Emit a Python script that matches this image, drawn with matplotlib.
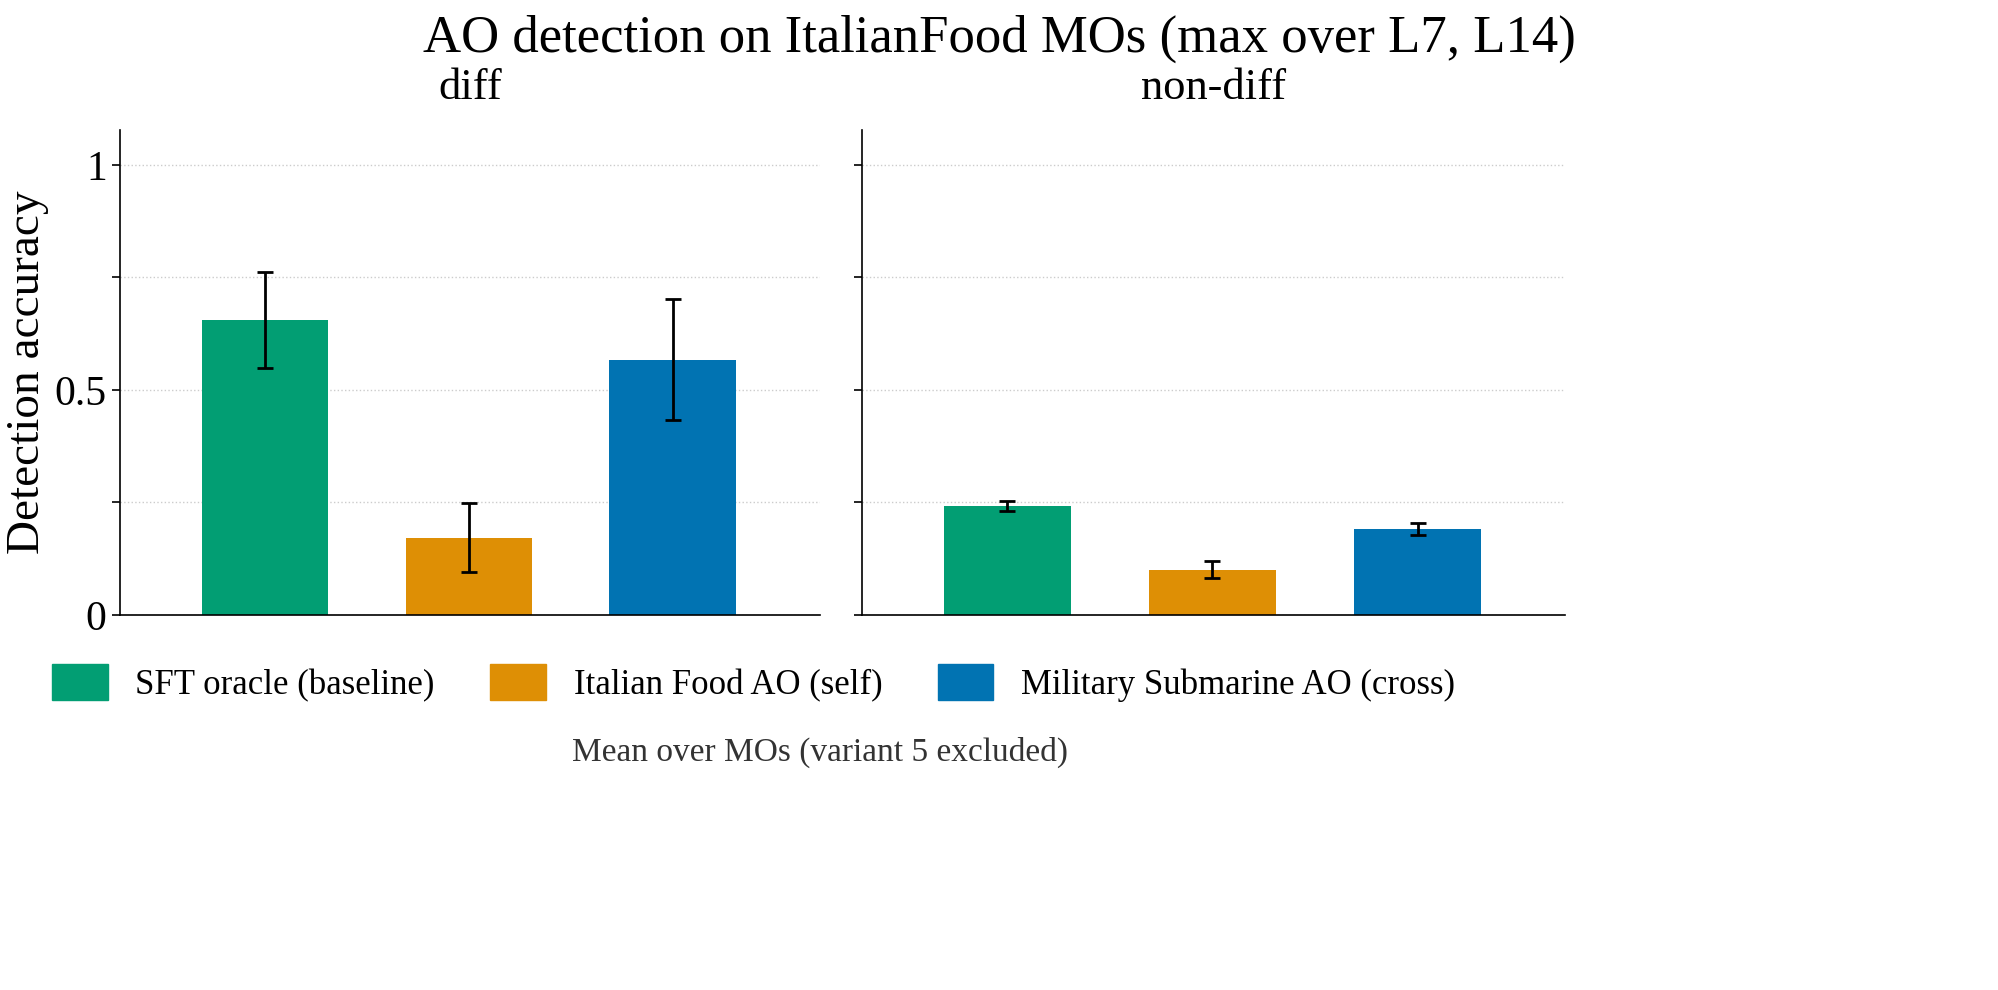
import numpy as np
import matplotlib
matplotlib.use("Agg")
import matplotlib.pyplot as plt
from matplotlib.patches import Patch

plt.rcParams['font.family'] = ['Liberation Serif', 'DejaVu Serif']

panels = ["diff", "non-diff"]
methods = ["SFT oracle (baseline)", "Italian Food AO (self)", "Military Submarine AO (cross)"]
colors = ["#029e73", "#de8f05", "#0173b2"]
means = {"diff": [0.655, 0.170, 0.567], "non-diff": [0.241, 0.100, 0.190]}
lows = {"diff": [0.548, 0.094, 0.432], "non-diff": [0.231, 0.081, 0.177]}
highs = {"diff": [0.762, 0.248, 0.702], "non-diff": [0.252, 0.120, 0.203]}

fig = plt.figure(figsize=(19.99, 9.9), dpi=100)
axes = [fig.add_axes([0.060, 0.379, 0.350, 0.490]),
        fig.add_axes([0.431, 0.379, 0.352, 0.490])]

x = np.arange(len(methods))
for ax, name in zip(axes, panels):
    m = np.array(means[name])
    err = [m - np.array(lows[name]), np.array(highs[name]) - m]
    ax.bar(x, m, width=0.62, color=colors, zorder=2)
    ax.errorbar(x, m, yerr=err, fmt='none', ecolor='black', elinewidth=2,
                capsize=6, capthick=2, zorder=3)
    ax.set_xlim(-0.71, 2.72)
    ax.set_ylim(0, 1.078)
    ax.set_xticks([])
    ax.set_yticks([0, 0.25, 0.5, 0.75, 1])
    ax.grid(axis='y', linestyle=':', color='#cccccc', linewidth=1, zorder=0)
    for s in ['top', 'right']:
        ax.spines[s].set_visible(False)
    ax.spines['left'].set_linewidth(1.2)
    ax.spines['bottom'].set_linewidth(1.2)
    ax.tick_params(axis='y', direction='out', length=6, width=1.2, labelsize=30)
    ax.set_title(name, fontsize=32, pad=22)

axes[0].set_yticklabels(["0", "", "0.5", "", "1"])
axes[1].set_yticklabels([])
axes[0].set_ylabel("Detection accuracy", fontsize=34)

fig.suptitle("AO detection on ItalianFood MOs (max over L7, L14)", fontsize=38, y=0.985)

handles = [Patch(color=c, label=l) for c, l in zip(colors, methods)]
fig.legend(handles=handles, loc='center', bbox_to_anchor=(0.377, 0.31), ncol=3,
           frameon=False, fontsize=25, handlelength=1.6, handleheight=1.2,
           columnspacing=1.6)
fig.text(0.41, 0.24, "Mean over MOs (variant 5 excluded)", ha='center', va='center',
         fontsize=24, color='#333333')

fig.savefig("out.png", dpi=100)
